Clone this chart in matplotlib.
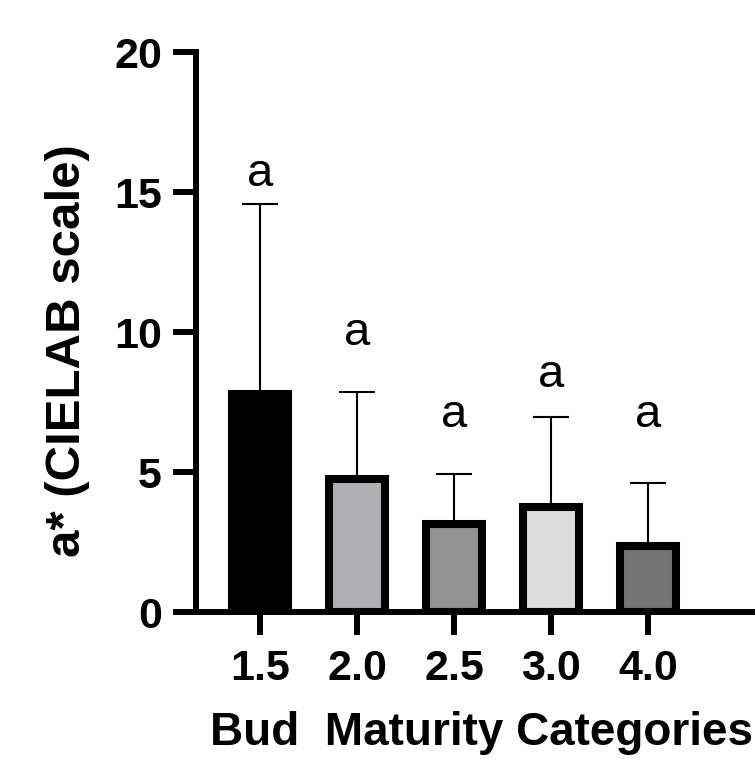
import matplotlib
matplotlib.use("Agg")
import matplotlib.pyplot as plt
import numpy as np

plt.rcParams['font.family'] = ['Liberation Sans', 'DejaVu Sans']

# data
categories = ["1.5", "2.0", "2.5", "3.0", "4.0"]
means = [7.78, 4.75, 3.13, 3.75, 2.34]
err_up = [6.78, 3.11, 1.80, 3.21, 2.28]
letters = ["a", "a", "a", "a", "a"]
letter_y = [15.2, 9.55, 6.6, 8.05, 6.6]
bar_colors = ["#000000", "#b0b0b2", "#939393", "#dcdcdc", "#737373"]

fig = plt.figure(figsize=(7.55, 7.61), dpi=100)
ax = fig.add_axes([196 / 755, 1 - 612 / 761, (755 - 196) / 755, 560 / 761])

x = np.arange(len(categories))

# error bars first so the bars cover the lower half
ax.errorbar(x, means, yerr=[np.zeros(len(means)), err_up], fmt='none',
            ecolor='black', elinewidth=1.5, capsize=13, capthick=1.5, zorder=1)
ax.bar(x, means, width=0.577, color=bar_colors, edgecolor='black',
       linewidth=5.8, zorder=2)

for xi, lab, ly in zip(x, letters, letter_y):
    ax.text(xi, ly, lab, ha='center', va='baseline', fontsize=34)

ax.set_xlim(-0.66, 5.1)
ax.set_ylim(0, 20)
ax.set_yticks([0, 5, 10, 15, 20])
ax.set_xticks(x)
ax.set_xticklabels(categories)

for s in ['top', 'right']:
    ax.spines[s].set_visible(False)
for s in ['left', 'bottom']:
    ax.spines[s].set_linewidth(4.3)

ax.tick_params(axis='both', direction='out', length=16.5, width=4.3)
ax.tick_params(axis='y', labelsize=31, pad=8)
ax.tick_params(axis='x', labelsize=31, pad=10)
for t in ax.get_xticklabels() + ax.get_yticklabels():
    t.set_fontweight('bold')

ax.set_xlabel("Bud  Maturity Categories", fontsize=33, fontweight='bold', labelpad=16)
ax.xaxis.label.set_x(0.51)
ax.set_ylabel("a* (CIELAB scale)", fontsize=35.5, fontweight='bold')
ax.yaxis.set_label_coords(-0.19, 0.466)

fig.savefig("out.png", dpi=100)
